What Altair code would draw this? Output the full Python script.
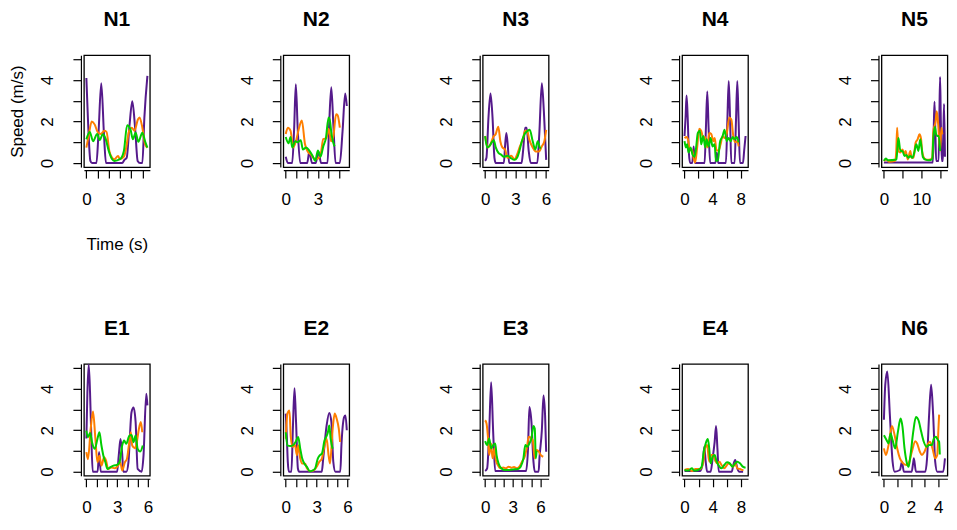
import json
import altair as alt
import pandas as pd

FONT = "Liberation Sans"
SERIES = ["purple", "orange", "green"]
COLORS = {"purple": "#551A8B", "orange": "#FF7F00", "green": "#00CD00"}

# ---- data: for every panel, series -> (time in s, speed in m/s) ----
N1 = {
    "purple": ([0, 0.15, 0.36, 0.5, 0.9, 1.08, 1.33, 1.57, 1.75, 3.2, 3.4, 3.6, 3.85, 4.1, 4.35, 4.58, 4.8, 5.0, 5.18, 5.45],
               [4.1, 2.0, 0.1, 0, 0, 1.4, 3.85, 1.4, 0, 0, 0.15, 0.25, 1.8, 2.98, 1.7, 0.1, 0, 0, 2.2, 4.2]),
    "orange": ([0, 0.2, 0.48, 0.75, 1.0, 1.3, 1.6, 1.8, 2.05, 2.3, 2.5, 2.83, 3.0, 3.35, 3.5, 3.85, 4.05, 4.3, 4.6, 4.75, 5.0, 5.24, 5.45],
               [0.74, 1.3, 2.0, 1.85, 1.5, 1.4, 1.55, 1.5, 0.58, 0.25, 0.18, 0.33, 0.18, 0.3, 0.58, 1.6, 1.7, 1.55, 2.1, 2.2, 1.7, 0.9, 0.74]),
    "green": ([0, 0.3, 0.6, 0.96, 1.2, 1.45, 1.7, 2.0, 2.3, 2.5, 3.0, 3.35, 3.64, 3.95, 4.15, 4.4, 4.64, 5.0, 5.24, 5.45],
              [1.14, 1.5, 1.05, 1.4, 1.1, 1.38, 1.2, 0.58, 0.18, 0.1, 0.18, 0.58, 1.82, 1.6, 1.14, 1.46, 1.02, 1.46, 1.05, 0.74]),
}
N2 = {
    "purple": ([0, 0.2, 0.6, 0.78, 0.94, 1.12, 1.35, 2.0, 2.2, 2.45, 2.8, 3.05, 3.3, 3.9, 4.05, 4.25, 4.45, 4.65, 5.05, 5.3, 5.55, 5.7],
               [0.3, 0, 0, 1.6, 3.8, 1.6, 0, 0, 0.55, 0, 0, 0.55, 0, 0, 1.8, 3.65, 1.8, 0, 0, 1.5, 3.35, 2.75]),
    "orange": ([0, 0.2, 0.45, 0.7, 0.95, 1.2, 1.5, 1.8, 2.05, 2.35, 2.7, 2.95, 3.25, 3.5, 3.8, 4.0, 4.25, 4.45, 4.7, 4.85, 5.05],
               [1.4, 1.7, 1.55, 0.75, 1.05, 1.6, 2.05, 0.9, 0.55, 0.4, 0.2, 0.2, 0.4, 1.15, 1.2, 1.65, 1.05, 1.3, 2.35, 2.3, 1.7]),
    "green": ([0, 0.25, 0.45, 0.6, 0.9, 1.1, 1.4, 1.6, 1.9, 2.2, 2.5, 2.75, 3.0, 3.25, 3.5, 3.75, 4.0, 4.1, 4.3, 4.55],
              [1.25, 0.95, 1.25, 0.75, 1.05, 1.0, 1.1, 0.65, 0.75, 0.6, 0.35, 0.1, 0.6, 0.3, 0.8, 1.2, 2.2, 2.1, 1.3, 0.8]),
}
N3 = {
    "purple": ([0, 0.13, 0.33, 0.53, 0.73, 0.92, 1.05, 1.85, 1.98, 2.1, 2.25, 2.37, 3.6, 3.75, 3.95, 4.1, 4.3, 4.5, 5.15, 5.35, 5.6, 5.8, 6.03],
               [0.1, 0.25, 2.2, 3.35, 2.2, 0.25, 0, 0, 0.9, 1.45, 0.75, 0, 0, 0.6, 1.7, 1.7, 0.6, 0, 0, 1.4, 3.85, 2.5, 0.15]),
    "orange": ([0, 0.26, 0.53, 0.8, 1.05, 1.3, 1.5, 1.7, 1.97, 2.2, 2.57, 2.9, 3.15, 3.4, 3.75, 3.95, 4.15, 4.35, 4.7, 5.0, 5.3, 5.6, 5.85, 6.03],
               [1.3, 0.75, 0.9, 1.25, 1.4, 1.75, 1.05, 0.75, 0.65, 0.25, 0.35, 0.18, 0.4, 0.75, 1.2, 1.55, 1.55, 1.15, 0.75, 0.55, 0.55, 0.8, 1.05, 1.6]),
    "green": ([0, 0.2, 0.4, 0.66, 0.86, 1.05, 1.3, 1.58, 1.85, 2.2, 2.5, 2.9, 3.15, 3.4, 3.6, 3.9, 4.2, 4.4, 4.7, 4.95, 5.2, 5.4, 5.5],
              [1.3, 0.75, 0.8, 1.0, 1.1, 0.75, 0.5, 0.4, 0.3, 0.35, 0.25, 0.15, 0.25, 0.6, 1.0, 1.4, 1.55, 1.6, 1.05, 0.65, 1.05, 0.75, 0.7]),
}
N4 = {
    "purple": ([0, 0.15, 0.29, 0.45, 0.62, 0.8, 1.1, 1.3, 1.5, 2.86, 3.05, 3.24, 3.43, 3.65, 4.4, 4.6, 4.8, 5.9, 6.1, 6.3, 6.5, 6.67, 7.14, 7.33, 7.52, 7.71, 7.9, 8.33, 8.5, 8.7],
               [1.3, 2.2, 3.25, 2.2, 0.5, 0, 0, 0.8, 0, 0, 1.7, 3.45, 1.7, 0, 0, 0.5, 0, 0, 2.0, 3.95, 2.0, 0, 0, 2.0, 3.95, 2.0, 0, 0, 0.6, 1.3]),
    "orange": ([0, 0.29, 0.48, 0.76, 1.05, 1.33, 1.52, 1.8, 2.1, 2.38, 2.67, 2.95, 3.24, 3.52, 3.81, 4.1, 4.3, 4.57, 4.86, 5.14, 5.43, 5.71, 6.0, 6.38, 6.67, 6.95, 7.24, 7.52, 7.71],
               [1.2, 1.25, 1.15, 0.6, 0.65, 0.18, 0.02, 0.75, 1.65, 1.55, 1.2, 1.25, 0.75, 1.45, 1.4, 1.05, 1.2, 0.6, 0.6, 0.9, 1.3, 1.2, 1.4, 2.2, 2.1, 1.3, 1.0, 1.05, 0.8]),
    "green": ([0, 0.19, 0.38, 0.57, 0.86, 1.14, 1.43, 1.6, 1.9, 2.19, 2.38, 2.67, 2.95, 3.14, 3.43, 3.71, 4.0, 4.29, 4.48, 4.76, 5.05, 5.43, 5.71, 6.0, 6.29, 6.57, 6.86, 7.14, 7.43, 7.71],
              [1.05, 0.75, 0.9, 0.5, 0.75, 0.4, 0.3, 0.6, 1.45, 1.55, 0.9, 1.3, 0.75, 1.15, 0.8, 1.2, 0.8, 0.9, 0.1, 0.13, 1.0, 1.3, 1.6, 1.05, 1.2, 1.05, 1.25, 1.15, 1.25, 1.0]),
}
N5 = {
    "purple": ([0, 4.0, 8.0, 13.06, 13.3, 13.5, 13.75, 13.95, 14.6, 14.8, 15.0, 15.2, 15.45, 15.75, 15.9, 16.06, 16.3],
               [0.02, 0.02, 0.02, 0.02, 1.6, 2.95, 1.4, 0.1, 0.1, 2.2, 4.15, 2.0, 0.1, 0.1, 1.6, 2.85, 0.3]),
    "orange": ([0, 0.7, 1.4, 3.0, 3.3, 3.53, 3.88, 4.4, 4.94, 5.5, 5.8, 6.35, 7.06, 7.4, 7.9, 8.47, 9.0, 9.5, 9.9, 10.2, 10.8, 11.5, 12.4, 12.9, 13.2, 13.8, 14.1, 14.5, 15.0, 15.35, 15.6],
               [0.1, 0.17, 0.06, 0.1, 0.6, 1.7, 0.58, 0.5, 0.65, 0.42, 0.58, 0.17, 0.58, 0.25, 0.25, 0.98, 1.14, 1.38, 1.18, 0.58, 0.22, 0.16, 0.17, 0.25, 1.55, 2.0, 2.5, 1.85, 0.58, 1.7, 1.38]),
    "green": ([0, 0.5, 1.06, 3.35, 3.6, 3.88, 4.4, 4.94, 5.5, 6.0, 6.5, 7.06, 7.6, 8.1, 8.65, 9.2, 9.7, 10.06, 10.4, 11.1, 12.0, 12.9, 13.2, 13.6, 13.95, 14.3, 14.65, 15.0],
              [0.1, 0.22, 0.13, 0.17, 0.7, 1.2, 0.58, 0.58, 0.34, 0.38, 0.25, 0.34, 0.25, 0.5, 0.9, 0.58, 1.14, 0.74, 0.29, 0.16, 0.13, 0.17, 1.2, 1.73, 1.38, 1.3, 1.3, 0.58]),
}
E1 = {
    "purple": ([0, 0.1, 0.23, 0.36, 0.49, 0.62, 1.1, 1.24, 1.4, 3.0, 3.16, 3.33, 3.5, 3.6, 3.9, 4.1, 4.4, 4.6, 4.8, 5.0, 5.4, 5.57, 5.84, 5.95],
               [1.6, 3.8, 5.16, 3.8, 1.58, 0, 0, 0.95, 0, 0, 0.8, 1.58, 0.8, 0, 0, 0.45, 2.87, 3.1, 2.4, 0.13, 0, 0.77, 3.76, 3.2]),
    "orange": ([0, 0.16, 0.42, 0.65, 0.88, 1.08, 1.27, 1.47, 1.73, 1.92, 2.12, 2.45, 2.77, 3.1, 3.3, 3.5, 3.75, 3.95, 4.14, 4.34, 4.47, 4.73, 4.92, 5.12, 5.31, 5.45],
               [0.94, 0.6, 2.06, 2.9, 1.58, 0.45, 0.77, 0.29, 0.69, 0.53, 0.13, 0.2, 0.16, 0.29, 0.45, 0.05, 0.45, 0.61, 1.26, 1.9, 1.26, 1.13, 1.42, 2.06, 2.39, 1.9]),
    "green": ([0, 0.16, 0.36, 0.55, 0.82, 1.08, 1.27, 1.47, 1.66, 1.86, 2.05, 2.3, 2.64, 2.97, 3.23, 3.49, 3.68, 3.88, 4.2, 4.4, 4.6, 4.8, 5.0, 5.25, 5.5],
              [1.98, 1.66, 1.87, 1.42, 1.1, 1.58, 1.9, 1.26, 0.77, 0.45, 0.13, 0.2, 0.29, 0.32, 0.45, 1.26, 1.5, 1.34, 1.74, 1.77, 1.42, 1.74, 1.1, 0.97, 1.26]),
}
E2 = {
    "purple": ([0, 0.1, 0.2, 0.3, 0.55, 0.7, 0.85, 1.0, 1.18, 1.3, 3.5, 3.64, 3.97, 4.23, 4.43, 4.62, 4.82, 5.3, 5.41, 5.67, 5.8, 5.93],
               [2.8, 1.75, 0.47, 0, 0, 2.2, 4.03, 2.4, 0.15, 0, 0, 0.63, 2.23, 2.83, 2.4, 0.47, 0, 0, 1.27, 2.63, 2.71, 2.0]),
    "orange": ([0, 0.16, 0.36, 0.49, 0.69, 0.89, 1.08, 1.21, 1.41, 1.6, 1.87, 2.07, 2.39, 2.72, 2.98, 3.25, 3.51, 3.7, 3.97, 4.16, 4.3, 4.56, 4.75, 4.95, 5.15, 5.28],
               [1.59, 2.8, 2.95, 1.67, 1.19, 1.3, 0.79, 1.27, 0.63, 0.39, 0.39, 0.15, 0.02, 0.06, 0.22, 0.47, 0.63, 1.1, 1.59, 0.79, 0.39, 2.07, 2.8, 2.55, 2.07, 1.43]),
    "green": ([0, 0.16, 0.43, 0.69, 0.95, 1.21, 1.41, 1.6, 1.8, 2.07, 2.33, 2.59, 2.85, 3.11, 3.31, 3.51, 3.77, 3.97, 4.1, 4.23, 4.36, 4.55],
              [1.9, 1.27, 1.24, 1.27, 1.43, 1.67, 1.1, 0.63, 0.39, 0.22, 0.02, 0.05, 0.15, 0.63, 0.79, 0.87, 1.51, 1.72, 1.91, 2.23, 1.59, 1.1]),
}
E3 = {
    "purple": ([0, 0.22, 0.44, 0.65, 0.87, 1.09, 4.44, 4.65, 4.8, 5.02, 5.24, 5.38, 5.8, 5.89, 6.15, 6.33, 6.5, 6.62],
               [0.03, 0.16, 1.92, 4.32, 1.92, 0.03, 0.03, 1.12, 3.12, 2.4, 0.48, 0, 0, 0.64, 2.0, 3.68, 2.72, 0.96]),
    "orange": ([0, 0.15, 0.29, 0.44, 0.65, 0.8, 1.02, 1.16, 1.38, 1.67, 1.96, 2.25, 2.55, 2.84, 3.13, 3.42, 3.71, 4.0, 4.29, 4.51, 4.73, 4.95, 5.16, 5.38, 5.6, 5.82, 6.04, 6.3],
               [2.48, 2.32, 1.76, 0.8, 1.36, 0.64, 1.12, 0.56, 0.32, 0.16, 0.2, 0.16, 0.24, 0.19, 0.22, 0.16, 0.24, 0.48, 0.72, 1.12, 1.68, 1.63, 1.52, 0.64, 1.04, 0.96, 0.8, 0.72]),
    "green": ([0, 0.22, 0.44, 0.65, 0.87, 1.09, 1.24, 1.45, 1.75, 2.1, 2.62, 3.2, 3.56, 3.85, 4.15, 4.36, 4.58, 4.8, 5.02, 5.24, 5.38, 5.5, 5.58],
              [1.47, 1.28, 1.6, 1.12, 1.28, 1.36, 0.8, 0.4, 0.16, 0.08, 0.08, 0.11, 0.13, 0.24, 0.64, 1.28, 1.2, 1.36, 1.6, 2.2, 2.08, 0.64, 1.0]),
}
E4 = {
    "purple": ([0, 1.0, 2.23, 2.62, 2.8, 3.0, 3.2, 3.7, 3.98, 4.27, 4.47, 4.66, 4.85, 6.7, 6.9, 7.18, 7.48, 7.77, 8.3],
               [0.03, 0.03, 0.03, 0.48, 1.2, 0.48, 0, 0, 0.64, 1.44, 2.2, 1.12, 0, 0, 0.3, 0.56, 0.16, 0, 0]),
    "orange": ([0, 0.49, 1.07, 1.55, 2.23, 2.62, 2.9, 3.2, 3.5, 3.79, 4.08, 4.37, 4.66, 4.95, 5.24, 5.63, 6.02, 6.3, 6.6, 6.9, 7.18, 7.48, 7.86, 8.16, 8.35],
               [0.08, 0.13, 0.03, 0.13, 0.13, 0.4, 1.12, 1.28, 0.48, 0.8, 0.8, 0.51, 0.4, 0.48, 0.32, 0.16, 0.32, 0.4, 0.32, 0.24, 0.4, 0.16, 0.13, 0.08, 0.08]),
    "green": ([0, 0.49, 1.07, 1.36, 1.94, 2.43, 2.72, 3.0, 3.3, 3.5, 3.69, 3.98, 4.27, 4.56, 4.85, 5.24, 5.63, 6.02, 6.41, 6.8, 7.18, 7.48, 7.86, 8.25, 8.65],
              [0.08, 0.05, 0.16, 0.05, 0.08, 0.24, 0.96, 1.36, 1.57, 1.12, 0.4, 0.72, 0.8, 0.48, 0.29, 0.16, 0.32, 0.45, 0.4, 0.24, 0.4, 0.48, 0.4, 0.24, 0.19]),
}
N6 = {
    "purple": ([0, 0.1, 0.25, 0.44, 0.64, 0.79, 1.18, 1.33, 1.47, 2.05, 2.15, 2.21, 2.36, 3.05, 3.18, 3.33, 3.48, 3.63, 3.78, 3.93, 4.37, 4.5],
               [2.5, 4.2, 4.83, 2.72, 0.48, 0, 0.08, 0.48, 0, 0, 0.4, 0.64, 0, 0, 0.64, 2.72, 4.19, 2.72, 0.48, 0, 0, 0.64]),
    "orange": ([0, 0.15, 0.34, 0.59, 0.79, 0.98, 1.18, 1.42, 1.67, 1.87, 2.06, 2.31, 2.45, 2.65, 2.8, 2.99, 3.19, 3.39, 3.58, 3.78, 3.93, 4.02, 4.07],
               [1.12, 0.8, 1.28, 2.2, 1.76, 1.12, 0.64, 0.4, 0.32, 0.48, 0.96, 1.47, 1.36, 0.96, 0.8, 0.96, 1.28, 1.44, 1.12, 0.64, 0.8, 2.08, 2.75]),
    "green": ([0, 0.2, 0.34, 0.49, 0.64, 0.83, 1.03, 1.23, 1.37, 1.52, 1.67, 1.82, 1.96, 2.16, 2.36, 2.55, 2.75, 2.94, 3.14, 3.33, 3.53, 3.68, 3.83, 3.98, 4.07, 4.12],
              [1.76, 1.52, 1.36, 1.84, 1.52, 1.12, 1.92, 2.56, 2.16, 1.12, 0.48, 0.24, 0.8, 1.92, 2.64, 2.48, 1.92, 1.44, 1.2, 1.28, 1.28, 1.6, 1.68, 1.52, 1.44, 0.83]),
}

TOP_ROW = [("N1", N1), ("N2", N2), ("N3", N3), ("N4", N4), ("N5", N5)]
BOTTOM_ROW = [("E1", E1), ("E2", E2), ("E3", E3), ("E4", E4), ("N6", N6)]

X_TICKS = {
    "N1": [0, 1, 2, 3, 4, 5], "N2": [0, 1, 2, 3, 4, 5], "N3": [0, 1, 2, 3, 4, 5, 6],
    "N4": [0, 2, 4, 6, 8], "N5": [0, 5, 10, 15],
    "E1": [0, 1, 2, 3, 4, 5, 6], "E2": [0, 1, 2, 3, 4, 5, 6], "E3": [0, 1, 2, 3, 4, 5, 6],
    "E4": [0, 2, 4, 6, 8], "N6": [0, 1, 2, 3, 4],
}
X_LABELS = {
    "N1": [0, 3], "N2": [0, 3], "N3": [0, 3, 6], "N4": [0, 4, 8], "N5": [0, 10],
    "E1": [0, 3, 6], "E2": [0, 3, 6], "E3": [0, 3, 6], "E4": [0, 4, 8], "N6": [0, 2, 4],
}
Y_TICKS = [0, 1, 2, 3, 4, 5]
Y_LABELS = [0, 2, 4]
Y_DOMAIN = [-0.2, 5.2]

W, H = 66, 112


def make_panel(name, data, first):
    frames = []
    for s in SERIES:
        t, v = data[s]
        frames.append(pd.DataFrame({"t": t, "v": v, "s": s}))
    df = pd.concat(frames, ignore_index=True)
    xmax = float(df["t"].max())
    xdom = [-0.04 * xmax, 1.04 * xmax]
    ticks = X_TICKS[name]

    xaxis = alt.Axis(
        values=ticks,
        labelExpr=f"indexof({json.dumps(X_LABELS[name])}, datum.value) >= 0 ? datum.label : ''",
        offset=3, tickSize=8, labelPadding=13, labelAngle=0,
        labelFlush=False, labelOverlap=False,
        title="Time (s)" if first else None, titlePadding=29,
    )
    yaxis = alt.Axis(
        values=Y_TICKS,
        labelExpr=f"indexof({json.dumps(Y_LABELS)}, datum.value) >= 0 ? datum.label : ''",
        offset=3, tickSize=8, labelPadding=20, labelAngle=270,
        labelAlign="center", labelBaseline="alphabetic",
        labelFlush=False, labelOverlap=False,
        title="Speed (m/s)" if first else None, titlePadding=12,
    )
    xs = alt.Scale(domain=xdom, nice=False, zero=False)
    ys = alt.Scale(domain=Y_DOMAIN, nice=False, zero=False)

    layers = []
    for s in SERIES:
        layers.append(
            alt.Chart(df[df["s"] == s])
            .mark_line(color=COLORS[s], strokeWidth=2, interpolate="monotone", strokeJoin="round")
            .encode(x=alt.X("t:Q", scale=xs, axis=xaxis), y=alt.Y("v:Q", scale=ys, axis=yaxis))
        )
    return alt.layer(*layers).properties(
        width=W, height=H,
        title=alt.TitleParams(
            name, fontSize=21, fontWeight="bold", font=FONT, color="black",
            baseline="alphabetic", anchor="middle", frame="group", offset=8,
        ),
    )


row1 = alt.hconcat(
    *[make_panel(n, d, i == 0) for i, (n, d) in enumerate(TOP_ROW)],
    spacing=133.6, bounds="flush",
)
row2 = alt.hconcat(
    *[make_panel(n, d, False) for n, d in BOTTOM_ROW],
    spacing=133.6, bounds="flush",
)

chart = (
    alt.vconcat(row1, row2, spacing=309, bounds="flush")
    .properties(padding=0)
    .configure_view(stroke="black", strokeWidth=1.3)
    .configure_axis(
        labelFont=FONT, titleFont=FONT, labelFontSize=17, titleFontSize=17,
        titleFontWeight="normal", labelColor="black", titleColor="black",
        tickColor="black", tickWidth=1.2, grid=False,
        domain=True, domainColor="black", domainWidth=1.2,
    )
)

chart.save("out.html", embed_options={"renderer": "svg", "actions": False})
